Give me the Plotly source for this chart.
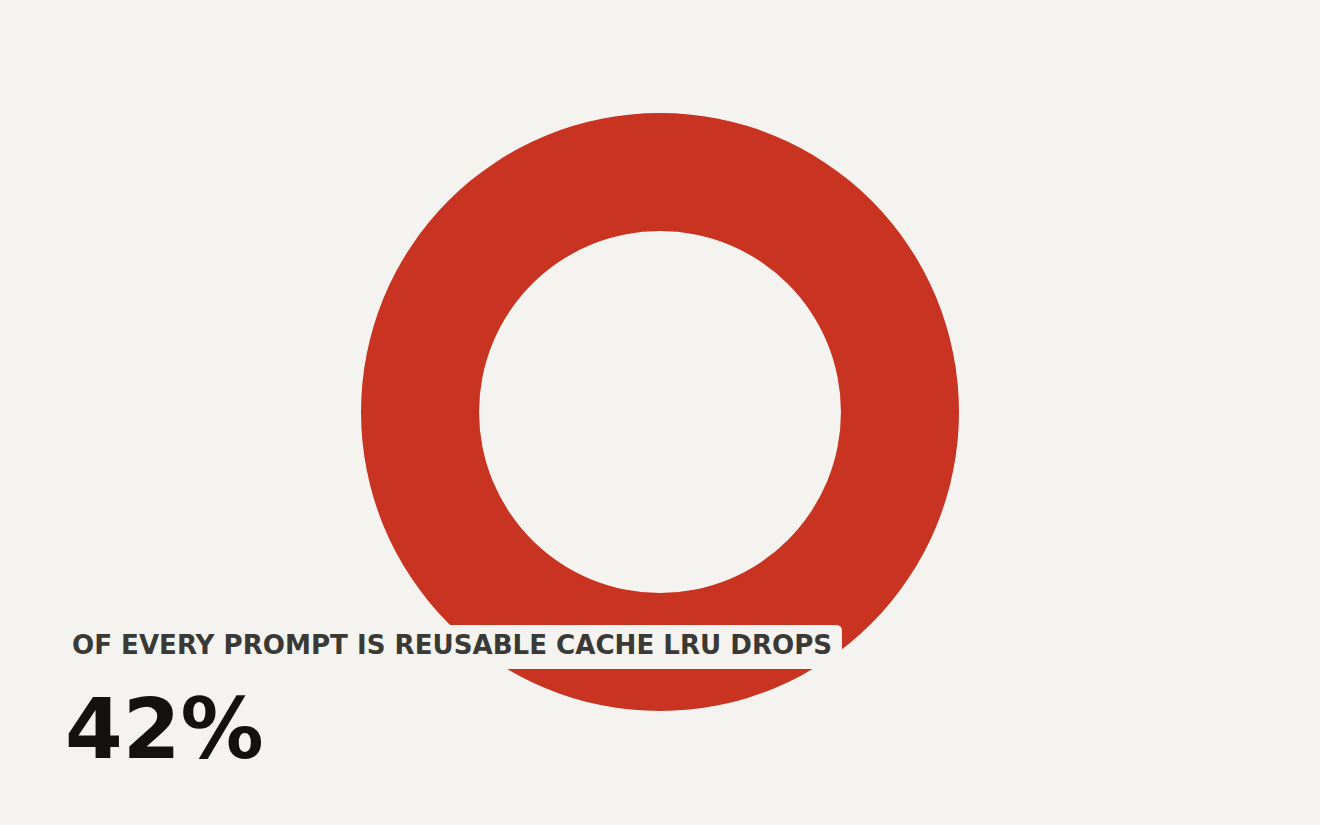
import plotly.graph_objects as go

# data
SLICE_LABELS = ["Reusable prompt cache dropped by LRU"]
SLICE_VALUES = [42]
HEADLINE = "42%"
CAPTION = "OF EVERY PROMPT IS REUSABLE CACHE LRU DROPS"

BG = "#f4f3ef"
RED = "#c83421"

W, H = 1320, 825
M_T, M_B = 113, 114
PLOT_H = H - M_T - M_B


def px_to_paper(x, y):
    return x / W, (H - M_B - y) / PLOT_H


def rounded_box(x0, y0, x1, y1, r):
    """Rounded rectangle path in paper coords from pixel corners."""
    rx, ry = r / W, r / PLOT_H
    a0, b0 = px_to_paper(x0, y1)  # bottom-left
    a1, b1 = px_to_paper(x1, y0)  # top-right
    return (
        f"M {a0 + rx},{b0} L {a1 - rx},{b0} Q {a1},{b0} {a1},{b0 + ry} "
        f"L {a1},{b1 - ry} Q {a1},{b1} {a1 - rx},{b1} "
        f"L {a0 + rx},{b1} Q {a0},{b1} {a0},{b1 - ry} "
        f"L {a0},{b0 + ry} Q {a0},{b0} {a0 + rx},{b0} Z"
    )


fig = go.Figure(go.Pie(
    labels=SLICE_LABELS,
    values=SLICE_VALUES,
    hole=0.605,
    sort=False,
    textinfo="none",
    hoverinfo="skip",
    marker=dict(colors=[RED], line=dict(width=0)),
    showlegend=False,
))

fig.add_shape(
    type="path",
    xref="paper", yref="paper",
    path=rounded_box(62, 625, 842, 669, 6),
    fillcolor=BG,
    line=dict(width=0),
    layer="above",
)

cx, cy = px_to_paper(70, 645)
fig.add_annotation(
    x=cx, y=cy, xref="paper", yref="paper",
    xanchor="left", yanchor="middle",
    text=f"<b>{CAPTION}</b>",
    showarrow=False,
    font=dict(family="DejaVu Sans", size=26.1, color="#3a3935"),
)

hx, hy = px_to_paper(63, 729)
fig.add_annotation(
    x=hx, y=hy, xref="paper", yref="paper",
    xanchor="left", yanchor="middle",
    text=f"<b>{HEADLINE}</b>",
    showarrow=False,
    font=dict(family="DejaVu Sans", size=83, color="#14120e"),
)

fig.update_layout(
    width=W, height=H,
    paper_bgcolor=BG,
    plot_bgcolor=BG,
    margin=dict(l=0, r=0, t=M_T, b=M_B),
)

# drop the browser's default body margin so the figure fills the window
fig.write_html(
    "out.html",
    config={"displayModeBar": False},
    post_script="document.body.style.margin='0';document.body.style.overflow='hidden';",
)
